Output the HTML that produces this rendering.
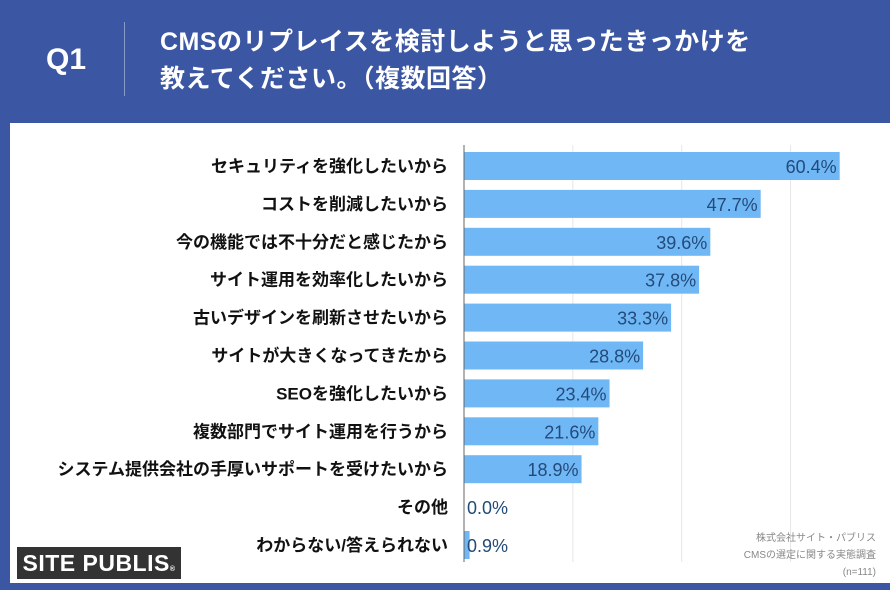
<!DOCTYPE html>
<html><head><meta charset="utf-8"><style>
body{margin:0;width:890px;height:590px;background:#3b56a3;overflow:hidden;font-family:"Liberation Sans","Noto Sans CJK JP",sans-serif;position:relative}
.abs{position:absolute}
</style></head><body>
<div class="abs" style="left:0;top:0;width:890px;height:122px;background:#3b56a3"></div>
<div class="abs" style="left:46px;top:43px;color:#fff;font-size:30px;font-weight:bold">Q1</div>
<div class="abs" style="left:124px;top:22px;width:1px;height:74px;background:#8a9acb"></div>
<div class="abs" style="left:160px;top:24px;color:#fff;font-size:25px;font-weight:bold;line-height:37px;letter-spacing:0.5px">CMSのリプレイスを検討しようと思ったきっかけを<br>教えてください。（複数回答）</div>
<div class="abs" style="left:10px;top:123px;width:880px;height:460px;background:#fff"></div>
<svg class="abs" style="left:0;top:0" width="890" height="590" id="chart"></svg>
<div class="abs" style="left:17px;top:547px;width:164px;height:32px;background:#333;color:#fff;font-size:23px;font-weight:bold;line-height:32px;text-align:center;letter-spacing:0.5px">SITE PUBLIS<span style="font-size:7px">®</span></div>
<div class="abs" style="right:14px;top:530px;color:#888;font-size:10px;line-height:17px;text-align:right">株式会社サイト・パブリス<br>CMSの選定に関する実態調査<br>(n=111)</div>
<script>
const categories=["セキュリティを強化したいから","コストを削減したいから","今の機能では不十分だと感じたから","サイト運用を効率化したいから","古いデザインを刷新させたいから","サイトが大きくなってきたから","SEOを強化したいから","複数部門でサイト運用を行うから","システム提供会社の手厚いサポートを受けたいから","その他","わからない/答えられない"];
const values=[60.4,47.7,39.6,37.8,33.3,28.8,23.4,21.6,18.9,0.0,0.9];
const gridTicks=[17.5,35,52.5];
const svg=document.getElementById('chart');
const NS='http://www.w3.org/2000/svg';
const x0=464,pxPer=6.22,y0=166,step=37.9,bh=28;
const xs=v=>x0+v*pxPer;
const ys=i=>y0+i*step;
function mk(t,a){const e=document.createElementNS(NS,t);for(const k in a)e.setAttribute(k,a[k]);svg.appendChild(e);return e;}
gridTicks.forEach(t=>{const l=mk('line',{x1:xs(t),x2:xs(t),y1:145,y2:562,stroke:'#e6e6e6','stroke-width':1});

});
categories.forEach((c,i)=>{
const v=values[i],y=ys(i);
const r=mk('rect',{x:x0,y:y-bh/2,width:Math.max(0,xs(v)-x0),height:bh,fill:'#70b8f5'});


const lb=mk('text',{x:448,y:y+6,'text-anchor':'end','font-size':17,'font-weight':'bold',fill:'#111'});lb.textContent=c;


const inside=v>10;
const vl=mk('text',{x:inside?xs(v)-3:x0+3,y:y+7,'text-anchor':inside?'end':'start','font-size':18,fill:'#234a7a'});vl.textContent=v.toFixed(1)+'%';


});
const ax=mk('line',{x1:x0,x2:x0,y1:145,y2:562,stroke:'#666','stroke-width':1});


</script>
</body></html>
